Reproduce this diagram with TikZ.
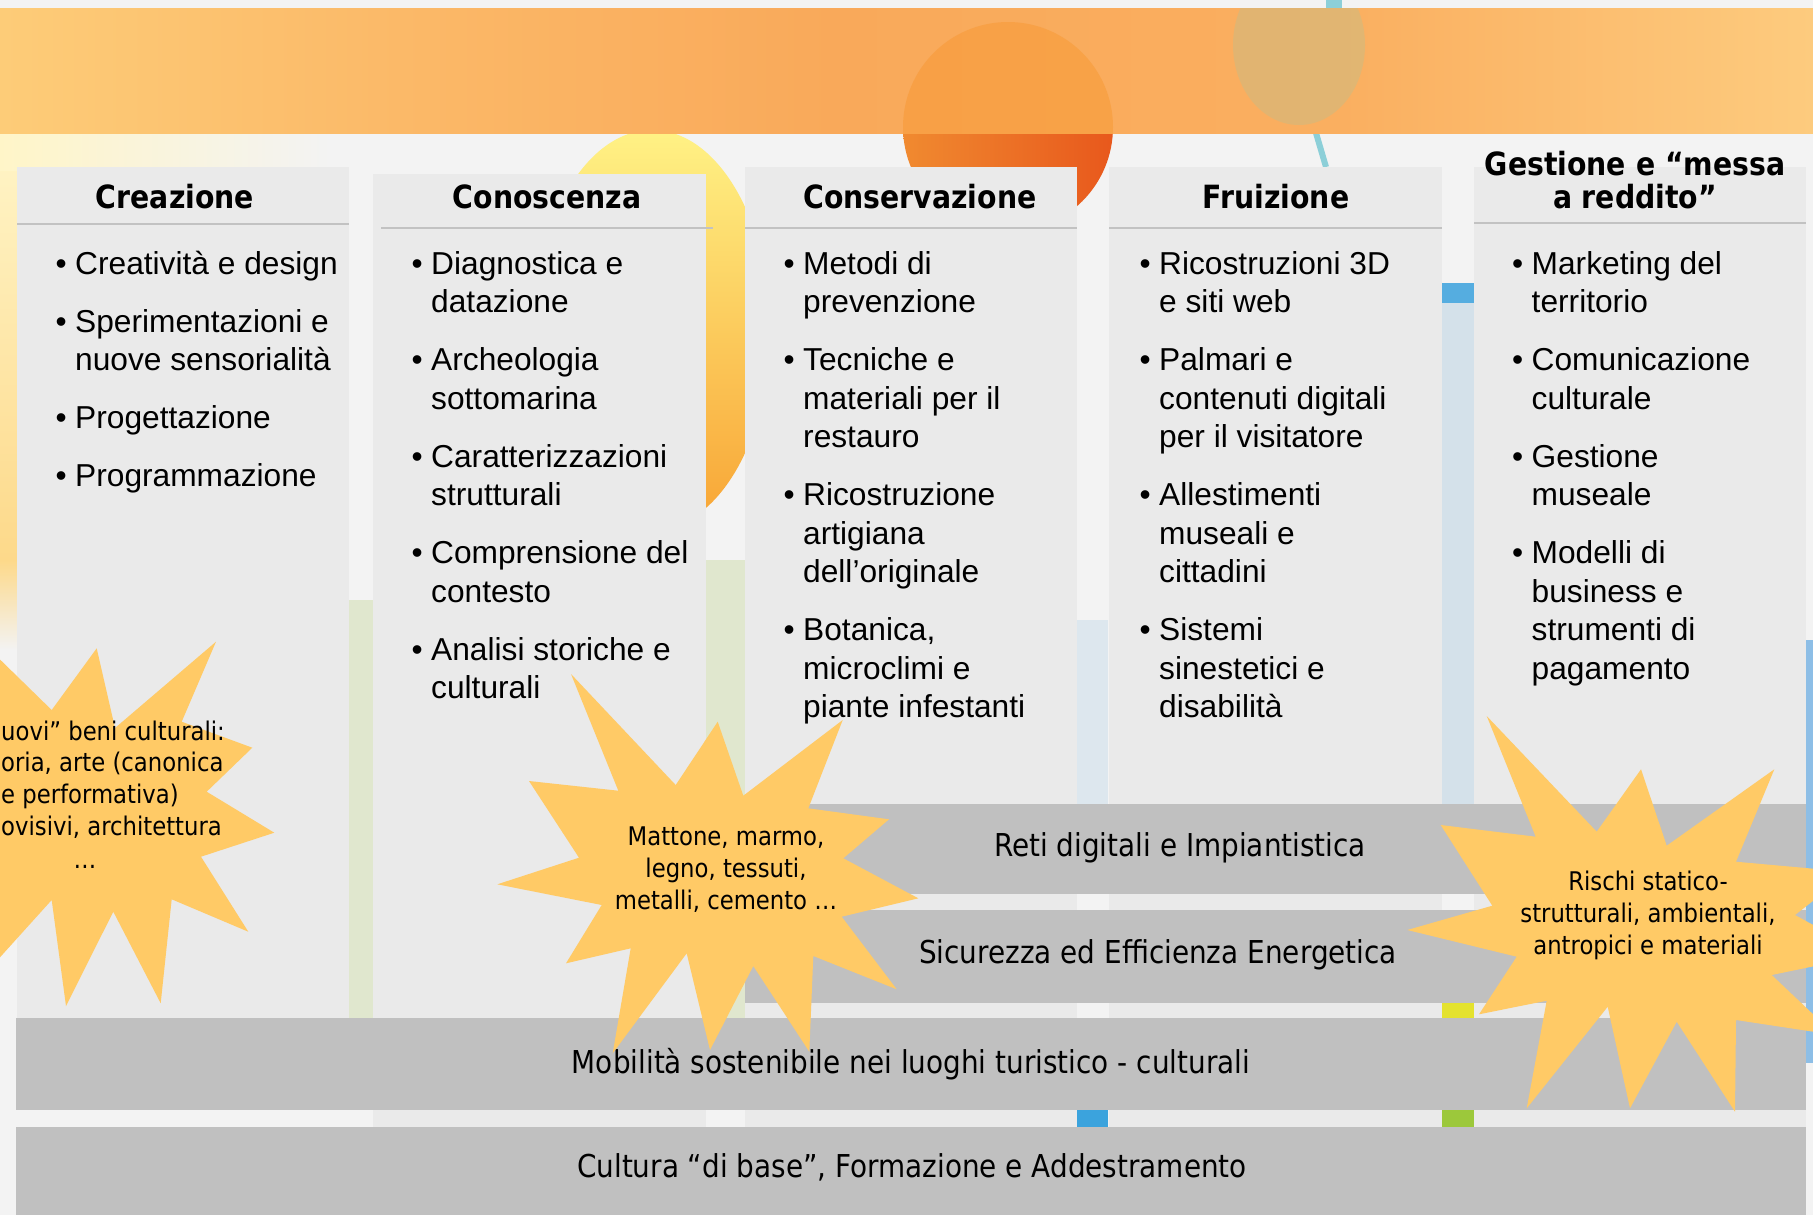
\documentclass[tikz,border=0pt]{standalone}
\usepackage{fontspec}
\setmainfont{Liberation Sans}
\newfontfamily\cond[FakeStretch=0.885]{DejaVu Sans}
\usetikzlibrary{calc}

\definecolor{bgwhite}{HTML}{F3F3F3}
\definecolor{colfill}{HTML}{EAEAEA}
\definecolor{bandgray}{HTML}{C0C0C0}
\definecolor{burst}{HTML}{FFCA66}
\definecolor{rulegray}{HTML}{C2C2C2}
\definecolor{bandL}{HTML}{FDCC78}
\definecolor{bandA}{HTML}{FBB968}
\definecolor{bandM}{HTML}{F9A95A}
\definecolor{bandB}{HTML}{FAAF60}
\definecolor{bandR}{HTML}{FDCB7E}
\definecolor{ballL}{HTML}{F08A30}
\definecolor{ballM}{HTML}{FBBE5E}
\definecolor{ballR}{HTML}{E8581C}
\definecolor{balltint}{HTML}{F7962E}
\definecolor{yelA}{HTML}{FFF285}
\definecolor{yelB}{HTML}{F8A434}
\definecolor{glowA}{HTML}{FFF5C8}
\definecolor{glowB}{HTML}{FDD98A}
\definecolor{palegreen}{HTML}{E0E7CE}
\definecolor{paleblue}{HTML}{D4E1EA}
\definecolor{faintblue}{HTML}{DDE7EE}
\definecolor{midblue}{HTML}{55ADE0}
\definecolor{deepblue}{HTML}{3BA3DD}
\definecolor{edgeblue}{HTML}{8DBEE6}
\definecolor{lime}{HTML}{E4E22E}
\definecolor{leaf}{HTML}{9CC83B}
\definecolor{sage}{HTML}{A9C49C}
\definecolor{teal}{HTML}{8CCFD8}

% orange title band, warmest in the middle (TikZ maps 25bp..75bp onto the path)
\pgfdeclarehorizontalshading{titleband}{100bp}{%
  color(0bp)=(bandL); color(25bp)=(bandL); color(36bp)=(bandA); color(48bp)=(bandM);
  color(62bp)=(bandB); color(75bp)=(bandR); color(100bp)=(bandR)}

\newcommand{\bul}{\makebox[19.5bp][l]{\textbullet}}

\tikzset{
  colbox/.style={fill=colfill, draw=none},
  headrule/.style={draw=rulegray, line width=2.5bp},
  headtext/.style={font=\cond\bfseries\fontsize{32bp}{30bp}\selectfont, inner sep=0, anchor=base},
  items/.style={font=\fontsize{31.7bp}{38.5bp}\selectfont, inner sep=0, anchor=base west},
  layer/.style={fill=bandgray, draw=none},
  layertext/.style={font=\cond\fontsize{31.5bp}{36bp}\selectfont, inner sep=0, anchor=center},
  burstshape/.style={fill=burst, draw=none},
  bursttext/.style={font=\cond\fontsize{25.7bp}{32bp}\selectfont, inner sep=0},
}

\begin{document}
\begin{tikzpicture}[x=1bp, y=-1bp]
\useasboundingbox (0,0) rectangle (1813,1215);

% ---- backdrop ----
\fill[bgwhite] (0,0) rectangle (1813,1215);
\shade[top color=glowA, bottom color=glowB] (0,133) rectangle (17,560);
\shade[top color=glowB, bottom color=bgwhite] (0,560) rectangle (17,650);
\shade[left color=glowA, right color=bgwhite] (0,133) rectangle (330,170);
\fill[palegreen] (349,600) rectangle (373,1018);
\fill[palegreen] (706,560) rectangle (745,1018);
\fill[faintblue] (1077,620) rectangle (1108,804);
\fill[deepblue] (1077,1110) rectangle (1108,1127);
\fill[midblue] (1441,283) rectangle (1474,303);
\fill[paleblue] (1441,303) rectangle (1474,804);
\fill[lime] (1441,1003) rectangle (1474,1018);
\fill[leaf] (1441,1110) rectangle (1474,1127);
\fill[edgeblue] (1806,640) rectangle (1813,1063);
\fill[teal] (1326,0) rectangle (1342,8);

% balloons behind the title band
\shade[top color=yelA, bottom color=yelB] (652,330) ellipse [x radius=118bp, y radius=200bp];
\shade[left color=ballL, middle color=ballM, right color=ballR] (1008,127) circle [radius=105bp];
\draw[teal, line width=6bp] (1316,133) -- (1326,167);

% title band, with the balloons showing faintly through it
\shade[shading=titleband] (0,8) rectangle (1813,133);
\begin{scope}
  \clip (0,8) rectangle (1813,133);
  \fill[balltint, fill opacity=0.45] (1008,127) circle [radius=105bp];
  \fill[sage, fill opacity=0.3] (1299,45) ellipse [x radius=66bp, y radius=80bp];
\end{scope}

% ---- columns ----
\fill[colbox] (17,167) rectangle (349,1110);
\fill[colbox] (373,174) rectangle (706,1215);
\fill[colbox] (745,167) rectangle (1077,1215);
\fill[colbox] (1109,167) rectangle (1442,1215);
\fill[colbox] (1474,167) rectangle (1806,1215);

\draw[headrule] (17,224) -- (349,224);
\draw[headrule] (381,228) -- (713,228);
\draw[headrule] (745,228) -- (1077,228);
\draw[headrule] (1109,228) -- (1442,228);
\draw[headrule] (1474,223) -- (1806,223);

\node[headtext] (h1) at (175,208) {Creazione};
\node[headtext] (h2) at (547,208) {Conoscenza};
\node[headtext] (h3) at (920,208) {Conservazione};
\node[headtext] (h4) at (1276,208) {Fruizione};
\node[headtext] (h5) at (1635,175)
  {\begin{tabular}[t]{@{}c@{}}Gestione e “messa\\a reddito”\end{tabular}};

\node[items] (l1) at (55.5,274) {\begin{tabular}[t]{@{}l@{}l@{}}
\bul & Creatività e design\\[19.5bp]
\bul & Sperimentazioni e\\
     & nuove sensorialità\\[19.5bp]
\bul & Progettazione\\[19.5bp]
\bul & Programmazione
\end{tabular}};

\node[items] (l2) at (411.5,274) {\begin{tabular}[t]{@{}l@{}l@{}}
\bul & Diagnostica e\\
     & datazione\\[19.5bp]
\bul & Archeologia\\
     & sottomarina\\[19.5bp]
\bul & Caratterizzazioni\\
     & strutturali\\[19.5bp]
\bul & Comprensione del\\
     & contesto\\[19.5bp]
\bul & Analisi storiche e\\
     & culturali
\end{tabular}};

\node[items] (l3) at (783.5,274) {\begin{tabular}[t]{@{}l@{}l@{}}
\bul & Metodi di\\
     & prevenzione\\[19.5bp]
\bul & Tecniche e\\
     & materiali per il\\
     & restauro\\[19.5bp]
\bul & Ricostruzione\\
     & artigiana\\
     & dell’originale\\[19.5bp]
\bul & Botanica,\\
     & microclimi e\\
     & piante infestanti
\end{tabular}};

\node[items] (l4) at (1139.5,274) {\begin{tabular}[t]{@{}l@{}l@{}}
\bul & Ricostruzioni 3D\\
     & e siti web\\[19.5bp]
\bul & Palmari e\\
     & contenuti digitali\\
     & per il visitatore\\[19.5bp]
\bul & Allestimenti\\
     & museali e\\
     & cittadini\\[19.5bp]
\bul & Sistemi\\
     & sinestetici e\\
     & disabilità
\end{tabular}};

\node[items] (l5) at (1512,274) {\begin{tabular}[t]{@{}l@{}l@{}}
\bul & Marketing del\\
     & territorio\\[19.5bp]
\bul & Comunicazione\\
     & culturale\\[19.5bp]
\bul & Gestione\\
     & museale\\[19.5bp]
\bul & Modelli di\\
     & business e\\
     & strumenti di\\
     & pagamento
\end{tabular}};

% ---- horizontal layers ----
\fill[layer] (745,804) rectangle (1806,894);
\fill[layer] (745,910) rectangle (1806,1003);
\fill[layer] (16,1018) rectangle (1806,1110);
\fill[layer] (16,1127) rectangle (1806,1215);

\node[layertext] (reti) at (1180,848) {Reti digitali e Impiantistica};
\node[layertext] (sic) at (1158,955) {Sicurezza ed Efficienza Energetica};
\node[layertext] (mob) at (911,1064) {Mobilità sostenibile nei luoghi turistico - culturali};
\node[layertext] (cult) at (912,1167) {Cultura “di base”, Formazione e Addestramento};

% ---- starbursts ----
\fill[burstshape] (-20,640) -- (51.7,710) -- (96.7,648.3) -- (115,728) -- (216,641.7)
  -- (181.7,721.7) -- (252.3,747.7) -- (206.7,791.7) -- (274.3,832.7) -- (201,856.7)
  -- (248.3,931.7) -- (171.7,899.3) -- (160.7,1003.3) -- (113.3,911.7) -- (66,1006)
  -- (51.7,900) -- (-25,985) -- (-80,900) -- (-80,700) -- cycle;

\fill[burstshape] (571,674) -- (675.7,785) -- (717.7,721.7) -- (743.3,795.7) -- (842.7,720)
  -- (808.3,808.3) -- (889,819.3) -- (843.3,858.3) -- (918.3,898.3) -- (841.7,916.7)
  -- (896.7,989.3) -- (813.3,956) -- (809.3,1051.7) -- (753.3,966) -- (710,1050)
  -- (686.7,953.3) -- (612.7,1053.3) -- (630.7,948.3) -- (566,963.3) -- (601.7,905)
  -- (497.3,884.3) -- (579,857.7) -- (529,781) -- (618.3,790.7) -- cycle;

\fill[burstshape] (1486.7,716) -- (1596.7,831.7) -- (1641,769.3) -- (1666.7,845.7)
  -- (1774.3,769.3) -- (1736,861.7) -- (1850,872) -- (1795,915) -- (1868,955)
  -- (1771.7,975) -- (1835,1035) -- (1736,1020) -- (1735,1111.7) -- (1676.7,1021.7)
  -- (1630,1108.3) -- (1607.7,1006.7) -- (1526.7,1108.3) -- (1546.7,1000.7)
  -- (1479,1014.3) -- (1516.7,956.7) -- (1407.3,930) -- (1492.3,905.7)
  -- (1440.7,825) -- (1535.7,836.7) -- cycle;

\node[bursttext, anchor=base west] (b1a) at (1,740) {uovi” beni culturali:};
\node[bursttext, anchor=base west] (b1b) at (1,771.7) {oria, arte (canonica};
\node[bursttext, anchor=base west] (b1c) at (1,803) {e performativa)};
\node[bursttext, anchor=base west] (b1d) at (1,835) {ovisivi, architettura};
\node[bursttext, anchor=base] (b1e) at (85,868) {…};

\node[bursttext, anchor=base] (b2) at (726,845)
  {\begin{tabular}[t]{@{}c@{}}Mattone, marmo,\\legno, tessuti,\\metalli, cemento …\end{tabular}};
\node[bursttext, anchor=base] (b3) at (1648,890)
  {\begin{tabular}[t]{@{}c@{}}Rischi statico-\\strutturali, ambientali,\\antropici e materiali\end{tabular}};

\end{tikzpicture}
\end{document}
